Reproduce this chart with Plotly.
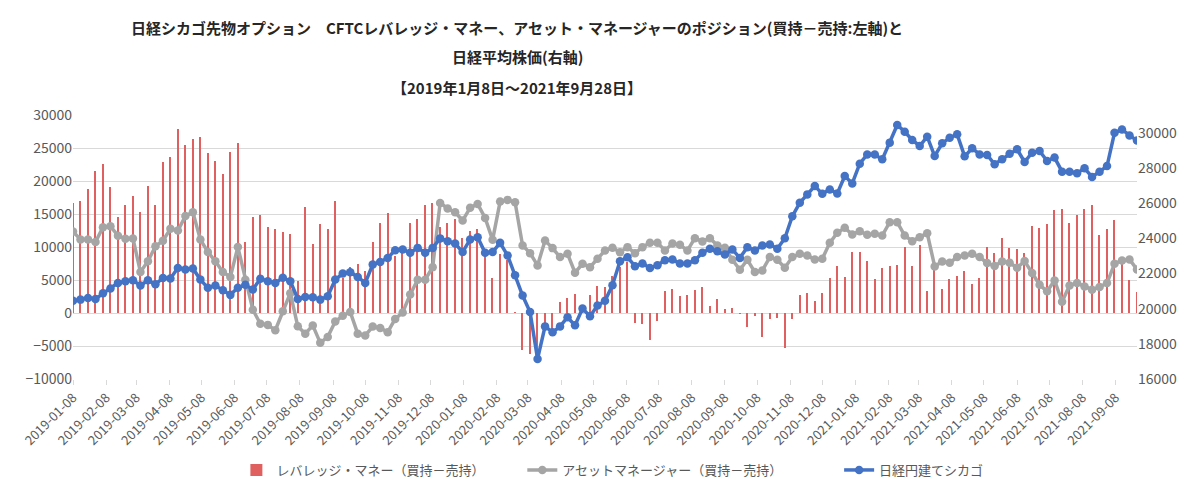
import pandas as pd
import plotly.graph_objects as go

# weekly CFTC report dates (Tuesdays)
dates = pd.date_range("2019-01-08", "2021-09-28", freq="7D")

# leveraged money (long - short), left axis
leveraged = [
    16700, 17000, 18800, 21500, 22600, 19100, 14500, 16300, 17700, 15300,
    19200, 16400, 22900, 23700, 27900, 25500, 26300, 26600, 24200, 23000,
    21000, 24400, 25800, 10800, 14500, 14900, 13000, 12700, 12300, 11900,
    4900, 16100, 10400, 13500, 12700, 16900, 5300, 7000, 7400, 6300,
    10700, 13600, 15200, 8600, 9300, 13700, 14200, 16300, 16600, 13000,
    13700, 14200, 11400, 12400, 12700, 8800, 5300, 8900, 8100, 150,
    -5650, -6200, -6500, -2000, -2500, 1700, 2200, 2900, 500, 2700,
    4100, 4000, 5650, 7000, 7800, -1500, -1700, -4100, -1150, 3300,
    3600, 2600, 2700, 3500, 3900, 1100, 2100, 600, 700, -80,
    -2100, -400, -3700, -950, -700, -5350, -850, 2700, 3050, 1750,
    3050, 5350, 7050, 5450, 9200, 9200, 7950, 5200, 6850, 7050,
    7250, 10000, 7150, 10300, 3350, 6900, 3650, 5150, 5650, 6350,
    4450, 5350, 10050, 9150, 11300, 9800, 9650, 9150, 13250, 12850,
    13550, 15600, 15700, 13700, 14900, 15800, 16400, 11800, 12750, 14100,
    7800, 4950, 3250,
]

# asset manager (long - short), left axis
asset_mgr = [
    12350, 11120, 11140, 10750, 13000, 13130, 11720, 11250, 11300, 6220,
    7850, 10100, 10950, 12750, 12500, 14680, 15260, 11120, 9240, 7850,
    6220, 5470, 9990, 5050, 500, -1630, -1800, -2610, 250, 3010,
    -2010, -3130, -1880, -4520, -3620, -1300, -420, 150, -3130, -3400,
    -2060, -2260, -2900, -900, 80, 2820, 5040, 5050, 6950, 16680,
    15830, 15270, 14010, 15930, 16530, 14410, 11090, 16880, 17140, 16780,
    10230, 9070, 7210, 10990, 9830, 8470, 8970, 6100, 7460, 6950,
    8220, 9480, 9880, 9220, 9980, 9070, 9980, 10630, 10630, 9480,
    10530, 10330, 9480, 11340, 10840, 11340, 10230, 9880, 8060, 6550,
    8060, 6200, 6450, 8470, 8060, 6850, 8470, 8970, 8720, 8110,
    8220, 10630, 12150, 12900, 11900, 12400, 11840, 12000, 11740, 13760,
    13760, 11740, 10890, 11490, 12100, 7060, 7810, 7610, 8470, 8720,
    8970, 8470, 7560, 7110, 7810, 7610, 6850, 7860, 6050, 4280,
    3280, 4940, 1710, 4180, 4540, 4030, 3530, 3930, 4540, 7460,
    7960, 8110, 6600,
]

# Nikkei yen-denominated Chicago futures, right axis
nikkei = [
    20450, 20510, 20600, 20550, 20870, 21140, 21460, 21560, 21610, 21310,
    21610, 21380, 21740, 21710, 22310, 22220, 22280, 21650, 21180, 21310,
    21040, 20780, 21180, 21350, 21090, 21690, 21560, 21460, 21750, 21560,
    20550, 20660, 20650, 20510, 20700, 21650, 21990, 22070, 21800, 21460,
    22500, 22650, 22880, 23320, 23360, 23170, 23450, 23170, 23450, 23990,
    23830, 23700, 23210, 23930, 24060, 23170, 23210, 23740, 23020, 21900,
    20740, 19810, 17140, 18990, 18650, 18990, 19510, 19050, 20000, 19560,
    20170, 20440, 21330, 22690, 22920, 22410, 22560, 22310, 22460, 22750,
    22790, 22560, 22560, 22750, 23170, 23400, 23260, 23070, 23360, 22880,
    23490, 23300, 23590, 23640, 23400, 24000, 25250, 26010, 26490, 26960,
    26520, 26770, 26540, 27530, 27110, 28230, 28760, 28760, 28480, 29430,
    30430, 30050, 29580, 29240, 29770, 28670, 29390, 29710, 29900, 28650,
    29110, 28760, 28730, 28200, 28480, 28800, 29050, 28330, 28860, 28960,
    28390, 28580, 27780, 27780, 27690, 27970, 27480, 27780, 28100, 29990,
    30180, 29840, 29550,
]

# monthly tick labels on the 8th
tick_dates = pd.date_range("2019-01-01", "2021-09-01", freq="MS") + pd.Timedelta(days=7)
tick_text = [d.strftime("%Y-%m-%d") for d in tick_dates]

font = "Noto Sans CJK JP"
gray_txt = "#595959"


def px_x(p):
    # page pixel -> paper x (plot area spans page x 69..1137)
    return (p - 69) / 1068


def px_y(p):
    # page pixel -> paper y (plot area spans page y 115..379)
    return (379 - p) / 264


fig = go.Figure()
fig.add_trace(go.Bar(
    x=dates, y=leveraged, name="レバレッジ・マネー（買持－売持）",
    marker=dict(color="#E06060", line=dict(width=0)),
    width=1.3 * 86400000, yaxis="y", legend="legend",
))
fig.add_trace(go.Scatter(
    x=dates, y=asset_mgr, name="アセットマネージャー（買持－売持）",
    mode="lines+markers", line=dict(color="#A5A5A5", width=3.5),
    marker=dict(color="#A5A5A5", size=8.5), yaxis="y", legend="legend2",
))
fig.add_trace(go.Scatter(
    x=dates, y=nikkei, name="日経円建てシカゴ",
    mode="lines+markers", line=dict(color="#4472C4", width=3.5),
    marker=dict(color="#4472C4", size=8.5), yaxis="y2", legend="legend3",
))

# page has an 8px body margin, so the figure is drawn 8px smaller and offset
titles = [
    ("日経シカゴ先物オプション　CFTCレバレッジ・マネー、アセット・マネージャーのポジション(買持－売持:左軸)と", 28),
    ("日経平均株価(右軸)", 57),
    ("【2019年1月8日～2021年9月28日】", 87),
]
for txt, ypx in titles:
    fig.add_annotation(
        text="<b>" + txt + "</b>", xref="paper", yref="paper",
        x=px_x(515), y=px_y(ypx), xanchor="center", yanchor="middle",
        showarrow=False, font=dict(family=font, size=15, color="#262626"),
    )

leg = dict(orientation="h", xanchor="left", yanchor="middle", y=px_y(470),
           font=dict(size=13, color=gray_txt), bgcolor="rgba(0,0,0,0)")

fig.update_layout(
    width=1192, height=489,
    margin=dict(l=61, r=63, t=107, b=118),
    plot_bgcolor="white", paper_bgcolor="white",
    font=dict(family=font, color=gray_txt, size=13),
    bargap=0,
    showlegend=True,
    legend=dict(leg, x=px_x(233)),
    legend2=dict(leg, x=px_x(520)),
    legend3=dict(leg, x=px_x(838)),
    xaxis=dict(
        type="date", range=[dates[0], dates[-1]],
        tickvals=tick_dates, ticktext=tick_text, tickangle=-45,
        tickfont=dict(size=13, color=gray_txt),
        showgrid=False, showline=False, ticks="outside", ticklen=5,
        tickcolor="#D9D9D9", zeroline=False,
    ),
    yaxis=dict(
        range=[-10000, 30000], dtick=5000, tickformat="d",
        tickfont=dict(size=14, color=gray_txt),
        gridcolor="#D9D9D9", gridwidth=1, zeroline=True, zerolinecolor="#D9D9D9",
        zerolinewidth=1, showline=False,
    ),
    yaxis2=dict(
        range=[16000, 31000], tick0=16000, dtick=2000, tickformat="d",
        overlaying="y", side="right",
        tickfont=dict(size=14, color=gray_txt), showgrid=False, zeroline=False,
        showline=False,
    ),
)

fig.write_html("out.html")
